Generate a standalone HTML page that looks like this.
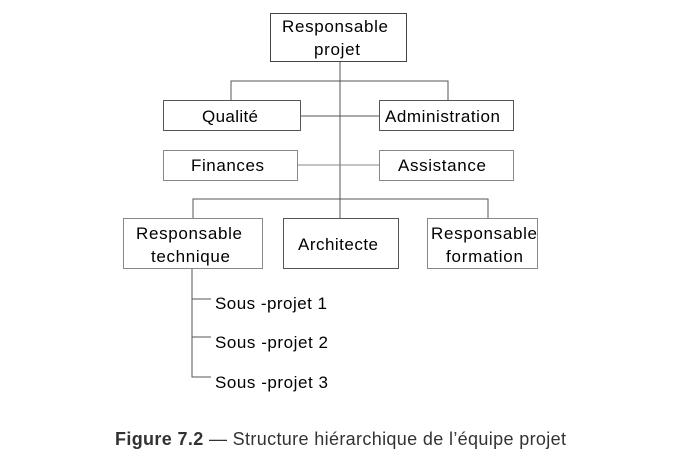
<!DOCTYPE html>
<html><head><meta charset="utf-8"><style>
html,body{margin:0;padding:0;background:#fff;}
body{width:694px;height:473px;position:relative;overflow:hidden;font-family:"Liberation Sans",Arial,sans-serif;}
svg{position:absolute;left:0;top:0;}
</style></head><body>
<svg width="694" height="473" viewBox="0 0 694 473" font-family="Liberation Sans, Arial, sans-serif" font-size="17" fill="#000">
<g stroke="#555" stroke-width="1" fill="none" shape-rendering="crispEdges">
<line x1="340" y1="61" x2="340" y2="218"/>
<polyline points="231,100 231,81 448,81 448,100"/>
<line x1="300" y1="116" x2="379" y2="116"/>
<line x1="297" y1="165" x2="379" y2="165" stroke="#888"/>
<polyline points="193,218 193,199 488,199 488,218"/>
<polyline points="192,268 192,377 211,377"/>
<line x1="192" y1="299" x2="211" y2="299"/>
<line x1="192" y1="337" x2="211" y2="337"/>
<rect x="270.5" y="13.5" width="136" height="48" stroke="#444"/>
<rect x="163.5" y="100.5" width="137" height="30"/>
<rect x="379.5" y="100.5" width="134" height="30"/>
<rect x="163.5" y="150.5" width="134" height="30" stroke="#888"/>
<rect x="379.5" y="150.5" width="134" height="30" stroke="#888"/>
<rect x="123.5" y="218.5" width="139" height="50" stroke="#888"/>
<rect x="283.5" y="218.5" width="115" height="50"/>
<rect x="427.5" y="218.5" width="110" height="50" stroke="#888"/>
</g>
<g lengthAdjust="spacingAndGlyphs">
<text x="282" y="32" textLength="106">Responsable</text>
<text x="314" y="55" textLength="46">projet</text>
<text x="202" y="122" textLength="56">Qualité</text>
<text x="385" y="122" textLength="115">Administration</text>
<text x="191" y="171" textLength="73">Finances</text>
<text x="398" y="171" textLength="88">Assistance</text>
<text x="136" y="239" textLength="106">Responsable</text>
<text x="151" y="262" textLength="79">technique</text>
<text x="298" y="250" textLength="80">Architecte</text>
<text x="431" y="239" textLength="106">Responsable</text>
<text x="446" y="262" textLength="77">formation</text>
<text x="215" y="309" textLength="112">Sous -projet 1</text>
<text x="215" y="348" textLength="113">Sous -projet 2</text>
<text x="215" y="388" textLength="113">Sous -projet 3</text>
<text x="115" y="445" font-size="18" fill="#333" textLength="451"><tspan font-weight="bold">Figure 7.2</tspan> — Structure hiérarchique de l’équipe projet</text>
</g>
</svg>
</body></html>
